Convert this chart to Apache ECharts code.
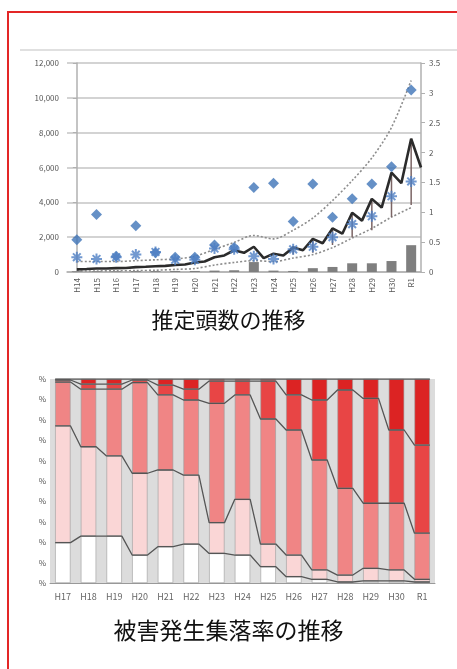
<!DOCTYPE html>
<html>
<head>
<meta charset="utf-8">
<script src="https://cdn.jsdelivr.net/npm/echarts@6/dist/echarts.min.js"></script>
<style>
  html, body { margin: 0; padding: 0; background: #fff; }
  #frame { position: absolute; left: 7px; top: 11px; width: 600px; height: 800px; border: 2.5px solid #e32626; box-sizing: border-box; }
  #main { position: absolute; left: 0; top: 0; width: 457px; height: 669px; }
</style>
</head>
<body>
<div id="frame"></div>
<div id="main"></div>
<script>
// 推定頭数の推移
var topCats = ['H14','H15','H16','H17','H18','H19','H20','H21','H22','H23','H24','H25','H26','H27','H28','H29','H30','R1'];
var countBars = [40, 40, 40, 50, 50, 60, 60, 80, 100, 570, 80, 60, 220, 290, 500, 500, 630, 1540];
var diamondVals = [1850, 3300, 900, 2650, 1100, 850, 850, 1550, 1400, 4850, 5100, 2900, 5050, 3150, 4200, 5050, 6050, 10450];
var starVals = [850, 750, 850, 1000, 1150, 700, 700, 1350, 1300, 900, 750, 1300, 1450, 2000, 2750, 3200, 4350, 5200];
var errLow = [null, null, null, null, null, null, null, null, null, null, null, 1000, 1100, 1550, 2000, 2400, 3150, 3850];
var errHigh = [null, null, null, null, null, null, null, null, null, null, null, 1500, 1850, 2500, 3400, 4150, 5700, 7650];
var upperBound = [600, 600, 600, 650, 700, 750, 900, 1300, 1700, 2100, 1900, 2400, 3100, 4100, 5250, 6550, 8300, 11000];
var lowerBound = [50, 60, 70, 80, 100, 150, 200, 400, 550, 650, 600, 800, 1000, 1400, 1950, 2500, 3150, 3700];
// 半年ごとの推定値（各年度の中央と年度の境）
var halfYearVals = [150, 170, 200, 200, 220, 230, 280, 300, 330, 350, 400, 430, 550, 600, 850, 950,
  1250, 1100, 1450, 800, 1050, 950, 1400, 1250, 1900, 1650, 2500, 2200, 3400, 2950, 4200, 3700, 5700, 5100, 7650, 6000];
var leftTicks = [0, 12000, 2000];
var rightTicks = [0, 3.5, 0.5];

// 被害発生集落率の推移
var botCats = ['H17','H18','H19','H20','H21','H22','H23','H24','H25','H26','H27','H28','H29','H30','R1'];
var noDamage = [19.8, 23.0, 23.0, 13.7, 17.8, 19.1, 14.5, 13.7, 8.0, 3.1, 1.8, 0.5, 1.0, 1.0, 0.5];
var lowDamage = [57.2, 43.8, 39.3, 40.1, 37.6, 33.8, 15.1, 27.3, 11.1, 10.6, 4.6, 3.4, 6.2, 5.4, 1.3];
var midDamage = [21.5, 28.2, 32.7, 44.4, 36.8, 36.8, 58.5, 51.2, 61.3, 61.3, 53.9, 42.5, 31.9, 32.7, 22.6];
var highDamage = [1.0, 2.5, 2.5, 1.3, 4.8, 5.3, 10.9, 6.8, 18.6, 17.2, 29.4, 48.2, 51.4, 35.9, 43.2];
var severeDamage = [0.5, 2.5, 2.5, 0.5, 3.0, 5.0, 1.0, 1.0, 1.0, 7.8, 10.3, 5.4, 9.5, 25.0, 32.4];

var chart = echarts.init(document.getElementById('main'));
var font = '"Noto Sans CJK JP", "Noto Sans", sans-serif';

// 系列線（積み上げ境界を棒の端から端までつなぐ）
function seriesLine(cum) {
  var pts = [];
  cum.forEach(function (v, i) {
    pts.push([i - 0.3, v]);
    pts.push([i + 0.3, v]);
  });
  return pts;
}
var stacks = [noDamage, lowDamage, midDamage, highDamage, severeDamage];
var cumLines = [];
var running = botCats.map(function () { return 0; });
stacks.forEach(function (arr) {
  running = running.map(function (r, i) { return r + arr[i]; });
  cumLines.push(running.slice());
});

var segColors = ['#ffffff', '#fad6d6', '#f08585', '#e84545', '#dc2323'];
var segNames = ['被害なし', '軽微', '中程度', '大きい', '深刻'];

var series = [
  {
    type: 'bar', xAxisIndex: 0, yAxisIndex: 0, data: countBars, barWidth: 10,
    itemStyle: { color: '#7f7f7f' }, z: 2
  },
  {
    type: 'line', xAxisIndex: 0, yAxisIndex: 0, data: upperBound, symbol: 'none', smooth: 0.3,
    lineStyle: { color: '#8c8c8c', width: 1.6, type: [2, 2] }, z: 3
  },
  {
    type: 'line', xAxisIndex: 0, yAxisIndex: 0, data: lowerBound, symbol: 'none', smooth: 0.3,
    lineStyle: { color: '#8c8c8c', width: 1.6, type: [2, 2] }, z: 3
  },
  {
    type: 'custom', xAxisIndex: 0, yAxisIndex: 0,
    data: topCats.map(function (c, i) { return [i, errLow[i], errHigh[i]]; }),
    renderItem: function (params, api) {
      if (api.value(1) == null || isNaN(api.value(1))) return null;
      var a = api.coord([api.value(0), api.value(1)]);
      var b = api.coord([api.value(0), api.value(2)]);
      return { type: 'line', shape: { x1: a[0], y1: a[1], x2: b[0], y2: b[1] }, style: { stroke: '#7b6565', lineWidth: 1.5 } };
    },
    z: 4
  },
  {
    type: 'line', xAxisIndex: 1, yAxisIndex: 0,
    data: halfYearVals.map(function (v, i) { return [i / 2, v]; }),
    symbol: 'none', lineStyle: { color: '#2b2b2b', width: 2.6 }, z: 5
  },
  {
    type: 'scatter', xAxisIndex: 0, yAxisIndex: 0, data: diamondVals, symbol: 'diamond', symbolSize: 11,
    itemStyle: { color: '#3f74b8' }, z: 6
  },
  {
    type: 'scatter', xAxisIndex: 0, yAxisIndex: 0, data: starVals,
    symbol: 'path://M0,5L10,5M5,0L5,10M1.5,1.5L8.5,8.5M8.5,1.5L1.5,8.5', symbolSize: 11,
    itemStyle: { color: 'rgba(0,0,0,0)', borderColor: '#4f80c4', borderWidth: 2 }, z: 7
  }
];

stacks.forEach(function (arr, k) {
  series.push({
    type: 'bar', name: segNames[k], stack: 'rate', xAxisIndex: 2, yAxisIndex: 2, data: arr, barWidth: '60%',
    itemStyle: { color: segColors[k], borderColor: '#9a9a9a', borderWidth: 0.6 }
  });
});
cumLines.forEach(function (cum) {
  series.push({
    type: 'line', xAxisIndex: 3, yAxisIndex: 2, data: seriesLine(cum), symbol: 'none',
    lineStyle: { color: '#555', width: 1.3 }, z: 4
  });
});

var option = {
  animation: false,
  textStyle: { fontFamily: font },
  grid: [
    { left: 67, top: 63, width: 354, height: 209 },
    { left: 50, top: 379, width: 385, height: 204, show: true, backgroundColor: '#dcdcdc', borderWidth: 0 }
  ],
  xAxis: [
    {
      type: 'category', gridIndex: 0, data: topCats,
      axisLine: { lineStyle: { color: '#b0b0b0', width: 1.5 } },
      axisTick: { show: false },
      axisLabel: { rotate: 90, color: '#555', fontSize: 8, margin: 6 }
    },
    { type: 'value', gridIndex: 0, min: -0.5, max: 17.5, show: false },
    {
      type: 'category', gridIndex: 1, data: botCats,
      axisLine: { lineStyle: { color: '#999' } },
      axisTick: { show: false },
      axisLabel: { color: '#666', fontSize: 9, margin: 9 }
    },
    { type: 'value', gridIndex: 1, min: -0.5, max: 14.5, show: false }
  ],
  yAxis: [
    {
      type: 'value', gridIndex: 0, min: leftTicks[0], max: leftTicks[1], interval: leftTicks[2],
      axisLine: { show: true, lineStyle: { color: '#b0b0b0', width: 1.5 } },
      axisTick: { show: true, length: 4, lineStyle: { color: '#b0b0b0' } },
      axisLabel: { color: '#555', fontSize: 8, margin: 8, formatter: function (v) { return v.toLocaleString('en-US'); } },
      splitLine: { lineStyle: { color: '#c4c4c4', width: 1.6 } }
    },
    {
      type: 'value', gridIndex: 0, position: 'right', min: rightTicks[0], max: rightTicks[1], interval: rightTicks[2],
      axisLine: { show: true, lineStyle: { color: '#b0b0b0', width: 1.5 } },
      axisTick: { show: true, length: 4, lineStyle: { color: '#b0b0b0' } },
      axisLabel: { color: '#555', fontSize: 8, margin: 8 },
      splitLine: { show: false }
    },
    {
      type: 'value', gridIndex: 1, min: 0, max: 100, interval: 10,
      axisLine: { show: false }, axisTick: { show: false },
      axisLabel: { color: '#555', fontSize: 8, margin: 4, formatter: function () { return '%'; } },
      splitLine: { show: false }
    }
  ],
  graphic: [
    { type: 'line', shape: { x1: 20, y1: 50, x2: 457, y2: 50 }, style: { stroke: '#c2c2c2', lineWidth: 1.2 } },
    { type: 'text', left: 'center', top: 309, style: { text: '推定頭数の推移', font: '22px ' + font, fill: '#111' } },
    { type: 'text', left: 'center', top: 619, style: { text: '被害発生集落率の推移', font: '23px ' + font, fill: '#111' } }
  ],
  series: series
};
chart.setOption(option);
</script>
</body>
</html>
